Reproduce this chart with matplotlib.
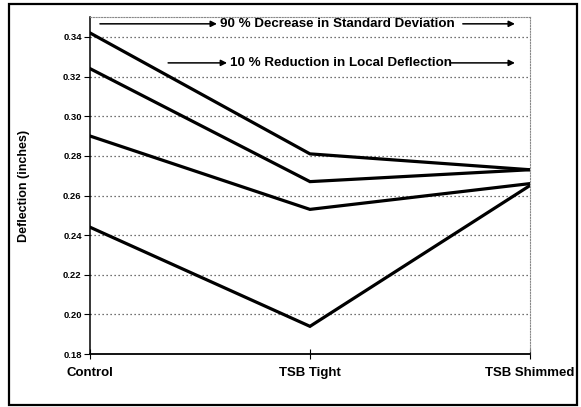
import matplotlib
matplotlib.use("Agg")
from matplotlib import pyplot as plt
from matplotlib.patches import Rectangle

# Data
categories = ["Control", "TSB Tight", "TSB Shimmed"]
series1 = [0.342, 0.281, 0.273]
series2 = [0.324, 0.267, 0.273]
series3 = [0.290, 0.253, 0.266]
series4 = [0.244, 0.194, 0.265]
yticks = [0.18, 0.20, 0.22, 0.24, 0.26, 0.28, 0.30, 0.32, 0.34]

plt.rcParams['font.family'] = ['Liberation Sans', 'DejaVu Sans']
plt.rcParams['font.weight'] = 'bold'

fig = plt.figure(figsize=(5.81, 4.07), dpi=100)
ax = fig.add_axes([0.155, 0.130, 0.757, 0.828])

xs = range(len(categories))
for s in [series1, series2, series3, series4]:
    ax.plot(xs, s, color='black', lw=2.3, solid_joinstyle='miter')

ax.set_xlim(0, 2)
ax.set_ylim(0.18, 0.35)
ax.set_yticks(yticks)
ax.set_yticklabels(["%.2f" % v for v in yticks], fontsize=6.8, fontweight='bold')
ax.set_xticks(list(xs))
ax.set_xticklabels(categories, fontsize=9.5, fontweight='bold')
ax.tick_params(axis='x', direction='inout', length=7, width=0.8, pad=6)
ax.tick_params(axis='y', direction='out', length=4, width=0.8, pad=2)

# dotted horizontal grid
for v in yticks[1:]:
    ax.axhline(v, color='#444444', lw=0.9, ls=(0, (1, 2.2)), zorder=0)

ax.spines['left'].set_linewidth(1.1)
ax.spines['bottom'].set_linewidth(1.3)
for side in ['top', 'right']:
    ax.spines[side].set_linestyle((0, (1, 1.5)))
    ax.spines[side].set_color('#888888')
    ax.spines[side].set_linewidth(0.8)

ax.set_ylabel("Deflection (inches)", fontsize=9, fontweight='bold', labelpad=24)

# annotation arrows
arrow = dict(arrowstyle='-|>', color='black', lw=1.1, mutation_scale=9, shrinkA=0, shrinkB=0)
ax.annotate("", xy=(0.577, 0.3466), xytext=(0.045, 0.3466), arrowprops=arrow)
ax.text(0.591, 0.3466, "90 % Decrease in Standard Deviation", fontsize=9.6,
        fontweight='bold', ha='left', va='center')
ax.annotate("", xy=(1.932, 0.3466), xytext=(1.695, 0.3466), arrowprops=arrow)

ax.annotate("", xy=(0.623, 0.3269), xytext=(0.355, 0.3269), arrowprops=arrow)
ax.text(0.636, 0.3269, "10 % Reduction in Local Deflection", fontsize=9.6,
        fontweight='bold', ha='left', va='center')
ax.annotate("", xy=(1.932, 0.3269), xytext=(1.636, 0.3269), arrowprops=arrow)

# outer frame
fig.patches.append(Rectangle((0.0155, 0.006), 0.977, 0.984, transform=fig.transFigure,
                             fill=False, edgecolor='black', lw=1.6))

fig.savefig("out.png", dpi=100)
